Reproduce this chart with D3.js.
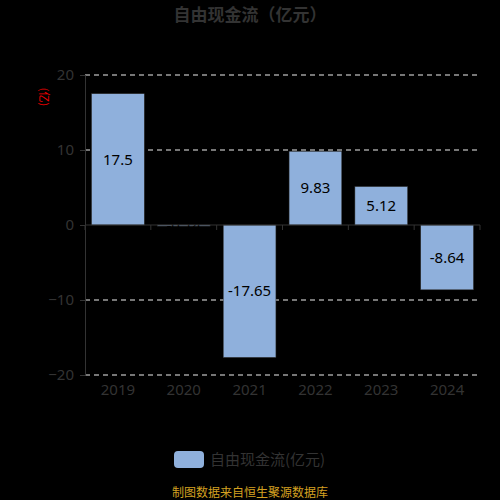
<!DOCTYPE html>
<html>
<head>
<meta charset="utf-8">
<script src="https://cdn.jsdelivr.net/npm/d3@7"></script>
<style>
  body { margin: 0; background: #000; }
  svg { font-family: "Noto Sans CJK SC", "Noto Sans", sans-serif; }
</style>
</head>
<body>
<div id="chart"></div>
<script>
var years = ["2019", "2020", "2021", "2022", "2023", "2024"];
var values = [17.5, -0.14, -17.65, 9.83, 5.12, -8.64];
var yTicks = [-20, -10, 0, 10, 20];

var W = 500, H = 500;
var margin = {top: 75, right: 20, bottom: 125, left: 85};
var width = W - margin.left - margin.right;
var height = H - margin.top - margin.bottom;

var svg = d3.select("#chart").append("svg")
  .attr("width", W)
  .attr("height", H)
  .style("background", "#000");

// title
svg.append("text")
  .attr("x", W / 2)
  .attr("y", 21)
  .attr("text-anchor", "middle")
  .style("font-size", "17px")
  .style("font-weight", "bold")
  .style("fill", "#333")
  .text("自由现金流（亿元）");

var g = svg.append("g")
  .attr("transform", "translate(" + margin.left + "," + margin.top + ")");

var x = d3.scaleBand()
  .domain(years)
  .range([0, width])
  .paddingInner(0.2)
  .paddingOuter(0.1);

var xb = d3.scaleBand().domain(years).range([0, width]);

var y = d3.scaleLinear()
  .domain([-20, 20])
  .range([height, 0]);

// grid lines (dashed)
g.selectAll(".grid")
  .data(yTicks.filter(function (d) { return d != 0; }))
  .enter().append("line")
  .attr("class", "grid")
  .attr("x1", 0)
  .attr("x2", width)
  .attr("y1", function (d) { return y(d); })
  .attr("y2", function (d) { return y(d); })
  .style("stroke", "#eee")
  .style("stroke-width", 1)
  .style("stroke-dasharray", "5,4");

// y axis
var yAxis = d3.axisLeft(y).tickValues(yTicks).tickSize(5).tickPadding(6);
var yg = g.append("g").call(yAxis);
yg.select(".domain").style("stroke", "#333");
yg.selectAll(".tick line").style("stroke", "#333");
yg.selectAll(".tick text")
  .style("fill", "#333")
  .style("font-size", "15px")
  .style("font-family", "'Noto Sans', sans-serif");

// y axis name
svg.append("text")
  .attr("transform", "translate(40,97) rotate(90)")
  .attr("text-anchor", "middle")
  .style("fill", "#e00")
  .style("font-size", "11px")
  .text("(亿)");

// bars
g.selectAll(".bar")
  .data(values)
  .enter().append("rect")
  .attr("class", "bar")
  .attr("x", function (d, i) { return x(years[i]); })
  .attr("y", function (d) { return y(Math.max(0, d)); })
  .attr("width", x.bandwidth())
  .attr("height", function (d) { return Math.abs(y(d) - y(0)); })
  .style("fill", "#8fb0dc")
  .style("stroke", "#333")
  .style("stroke-width", 0.5);

// bar labels
g.selectAll(".lbl")
  .data(values)
  .enter().append("text")
  .attr("class", "lbl")
  .attr("x", function (d, i) { return x(years[i]) + x.bandwidth() / 2; })
  .attr("y", function (d) { return (y(d) + y(0)) / 2; })
  .attr("dy", "0.35em")
  .attr("text-anchor", "middle")
  .style("fill", "#000")
  .style("font-size", "15px")
  .style("font-family", "'Noto Sans', sans-serif")
  .text(function (d) { return d; });

// x axis line at zero with ticks at band edges
g.append("line")
  .attr("x1", 0).attr("x2", width)
  .attr("y1", y(0)).attr("y2", y(0))
  .style("stroke", "#333");

var edges = years.map(function (d) { return xb(d); }).concat([width]);
g.selectAll(".xtick")
  .data(edges)
  .enter().append("line")
  .attr("class", "xtick")
  .attr("x1", function (d) { return d; })
  .attr("x2", function (d) { return d; })
  .attr("y1", y(0))
  .attr("y2", y(0) + 5)
  .style("stroke", "#333");

// x labels at bottom
g.selectAll(".xlbl")
  .data(years)
  .enter().append("text")
  .attr("class", "xlbl")
  .attr("x", function (d) { return xb(d) + xb.bandwidth() / 2; })
  .attr("y", height + 20)
  .attr("text-anchor", "middle")
  .style("fill", "#333")
  .style("font-size", "15px")
  .style("font-family", "'Noto Sans', sans-serif")
  .text(function (d) { return d; });

// legend
svg.append("rect")
  .attr("x", 174)
  .attr("y", 451)
  .attr("width", 30)
  .attr("height", 17)
  .attr("rx", 4)
  .style("fill", "#8fb0dc");

svg.append("text")
  .attr("x", 210)
  .attr("y", 465)
  .style("fill", "#333")
  .style("font-size", "15px")
  .text("自由现金流(亿元)");

// footer
svg.append("text")
  .attr("x", W / 2)
  .attr("y", 497)
  .attr("text-anchor", "middle")
  .style("fill", "#d4a020")
  .style("font-size", "12px")
  .text("制图数据来自恒生聚源数据库");
</script>
</body>
</html>
